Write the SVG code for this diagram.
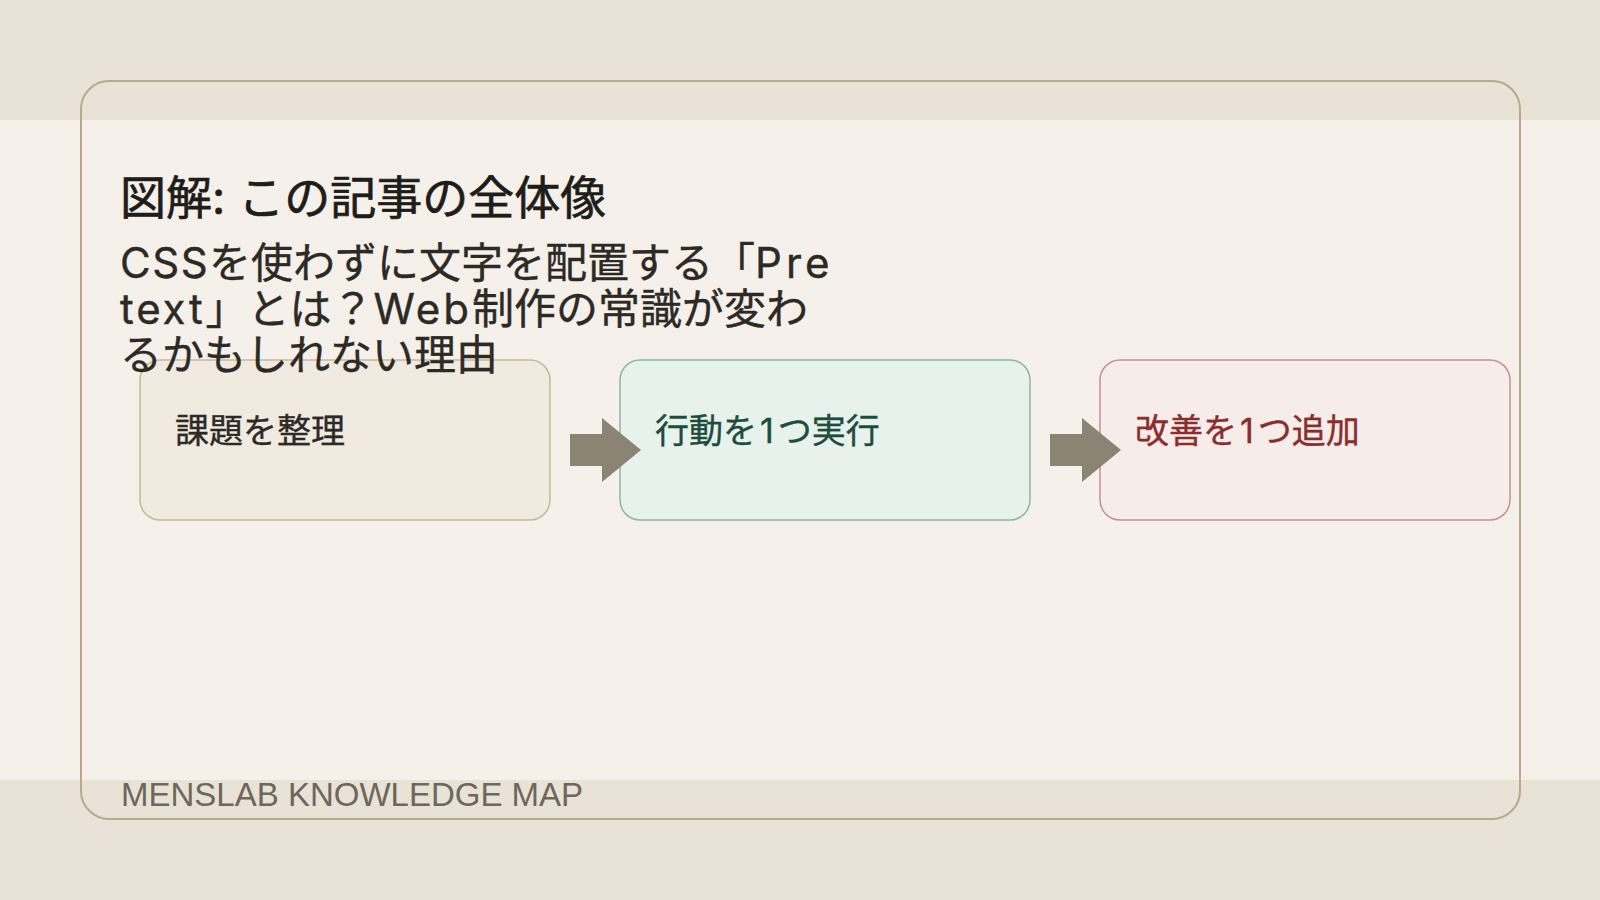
<svg xmlns="http://www.w3.org/2000/svg" width="1600" height="900" viewBox="0 0 1600 900">
  <style>
    .jp { font-family: Inter, "Noto Sans CJK JP", sans-serif; }
    .node-label { font-size: 34px; stroke-width: 0.4; }
    .arrow { fill: #8b8373; }
    .one { letter-spacing: 4px; }
  </style>
  <defs>
    <polygon id="arr" points="0,16 32,16 32,0 71,32 32,64 32,48 0,48"/>
  </defs>
  <rect x="0" y="0" width="1600" height="900" fill="#e9e2d6"/>
  <rect x="0" y="120" width="1600" height="660" fill="#f5f1ea"/>
  <rect id="frame" x="81" y="81" width="1439" height="738" rx="28" fill="none" stroke="#bca98a" stroke-width="2"/>

  <g id="node-1">
    <rect x="140" y="360" width="410" height="160" rx="20" fill="#f1eae0" stroke="#c8b899" stroke-width="1.5"/>
    <text class="jp node-label" x="175" y="443" fill="#2c2a26" stroke="#2c2a26">課題を整理</text>
  </g>
  <g id="node-2">
    <rect x="620" y="360" width="410" height="160" rx="20" fill="#e8f2ed" stroke="#8fb5a5" stroke-width="1.5"/>
    <text class="jp node-label" x="655" y="443" fill="#1e4d3c" stroke="#1e4d3c">行動を<tspan class="one" dx="3">1</tspan>つ実行</text>
  </g>
  <g id="node-3">
    <rect x="1100" y="360" width="410" height="160" rx="20" fill="#f6edea" stroke="#c49092" stroke-width="1.5"/>
    <text class="jp node-label" x="1135" y="443" fill="#8b2d2f" stroke="#8b2d2f">改善を<tspan class="one" dx="3">1</tspan>つ追加</text>
  </g>

  <g id="connectors">
    <use href="#arr" class="arrow" x="570" y="418"/>
    <use href="#arr" class="arrow" x="1050" y="418"/>
  </g>

  <g id="header">
    <text class="jp" x="120" y="214" font-size="46" fill="#1f1d1a" stroke="#1f1d1a" stroke-width="0.7">図解: この記事の全体像</text>
    <text class="jp" font-size="42" fill="#2d2a26" stroke="#2d2a26" stroke-width="0.4">
      <tspan x="120" y="278"><tspan letter-spacing="1.5">CSS</tspan>を使わずに文字を配置する「<tspan letter-spacing="4">Pre</tspan></tspan>
      <tspan x="120" y="324"><tspan letter-spacing="2.8">text</tspan>」とは？<tspan letter-spacing="3">Web</tspan>制作の常識が変わ</tspan>
      <tspan x="120" y="370">るかもしれない理由</tspan>
    </text>
  </g>

  <text id="footer" x="121" y="806" font-family="'Liberation Sans', Arial, sans-serif" font-size="33" fill="#6e675c">MENSLAB KNOWLEDGE MAP</text>
</svg>
